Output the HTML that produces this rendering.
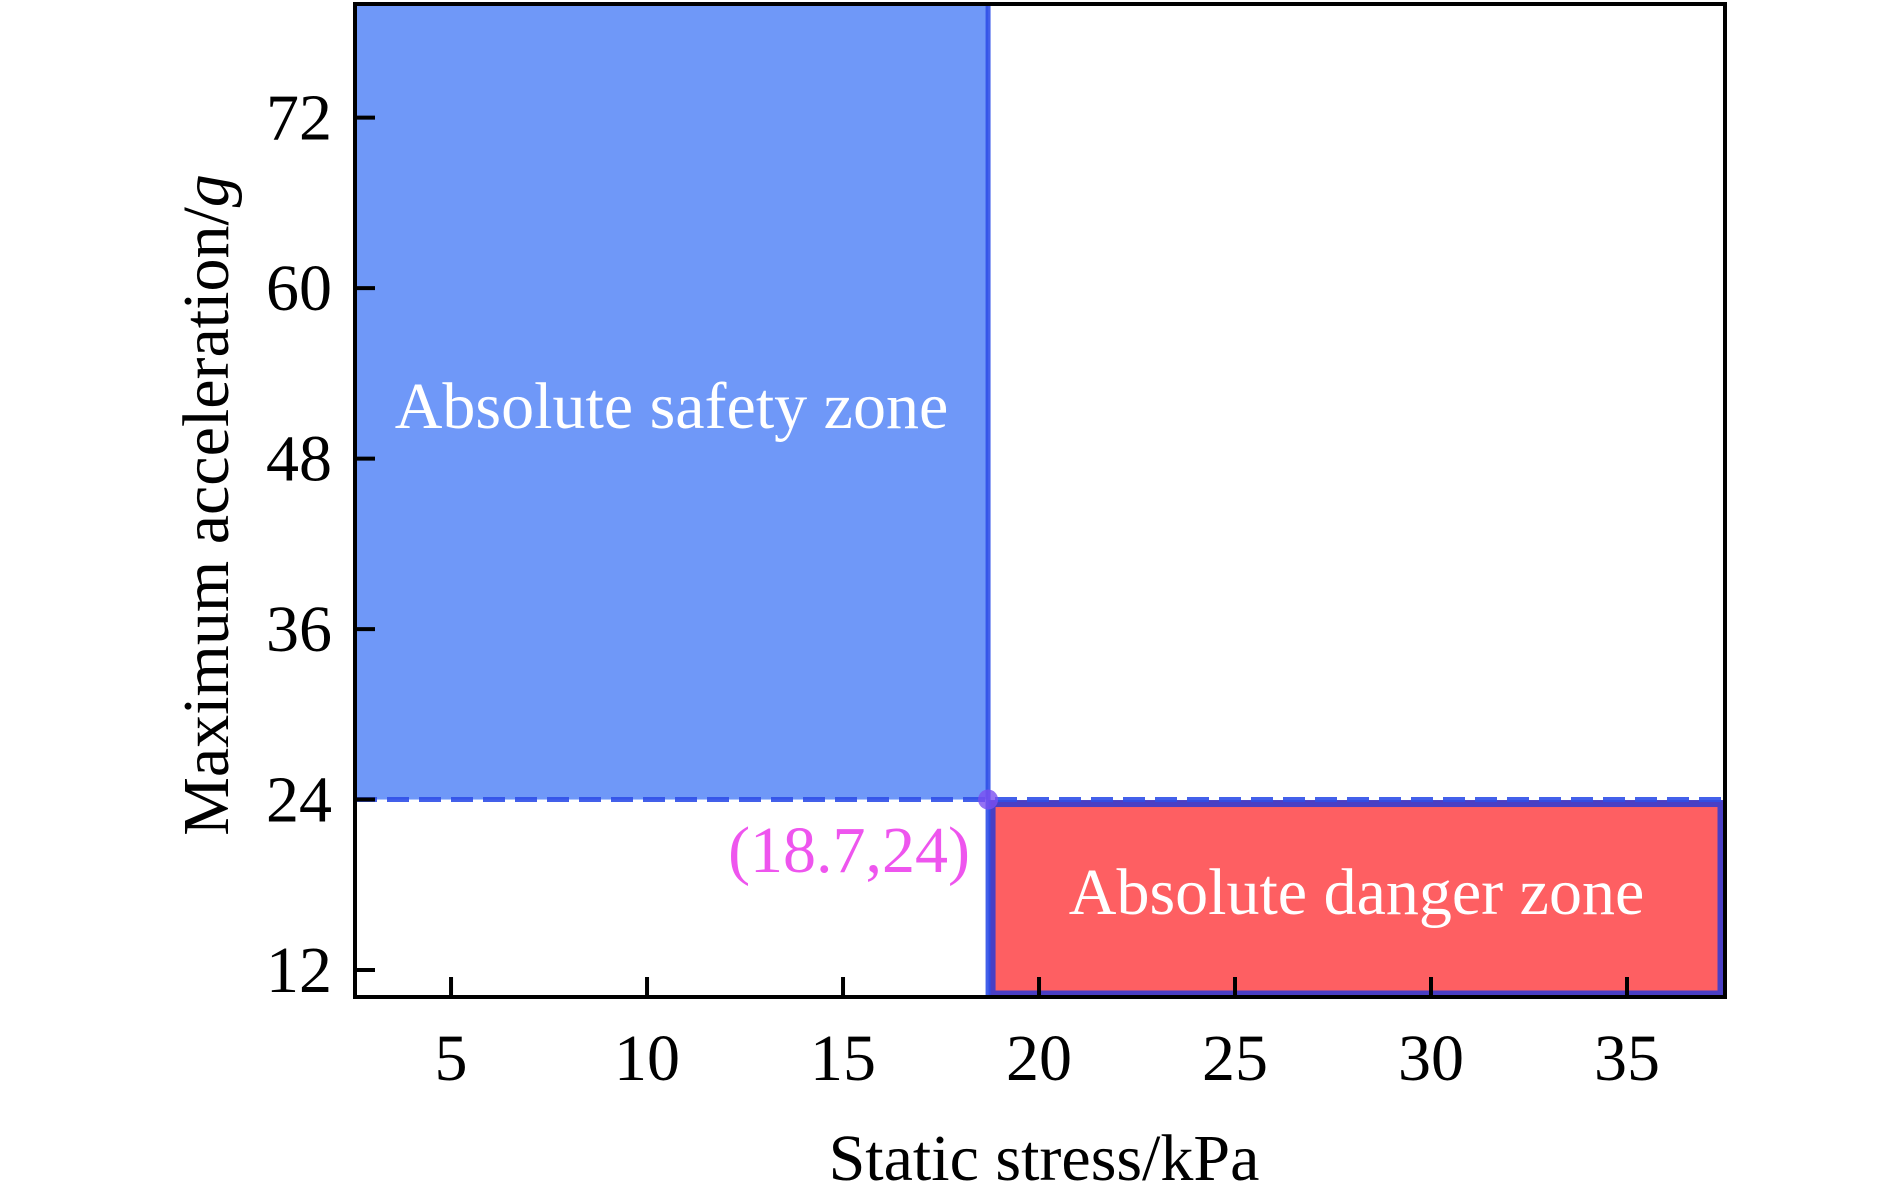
<!DOCTYPE html>
<html><head><meta charset="utf-8"><style>
html,body{margin:0;padding:0;background:#fff}
svg{display:block}
text{font-family:"Liberation Serif",serif}
</style></head><body>
<svg id="chart" width="1890" height="1197" viewBox="0 0 1890 1197">
<g id="g"></g>
</svg>
<script>
const xTicks=[5,10,15,20,25,30,35];
const yTicks=[12,24,36,48,60,72];
const criticalX=[18.7];
const criticalY=[24];
const xDomain=[2.55,37.5];
const yDomain=[10.1,80];
const L=355,R=1725,T=4,B=997;
function sx(v){return L+(v-xDomain[0])/(xDomain[1]-xDomain[0])*(R-L);}
function sy(v){return B-(v-yDomain[0])/(yDomain[1]-yDomain[0])*(B-T);}
const NS="http://www.w3.org/2000/svg";
const g=document.getElementById('g');
function mk(tag,attrs,parent){const e=document.createElementNS(NS,tag);for(const k in attrs)e.setAttribute(k,attrs[k]);(parent||g).appendChild(e);return e;}
const cx=sx(criticalX[0]),cy=sy(criticalY[0]);
let e;
e=mk('rect',{x:L,y:T,width:cx-L,height:cy-T,fill:'#6f98f8'});


e=mk('rect',{x:cx+4,y:cy+4,width:R-cx-8,height:B-cy-7,fill:'#fe5f62',stroke:'#4a3fc4','stroke-width':7});


e=mk('line',{x1:L,y1:cy,x2:R,y2:cy,stroke:'#2f4fe8','stroke-width':5,'stroke-dasharray':'22 10',opacity:0.9});


e=mk('line',{x1:cx,y1:T,x2:cx,y2:B,stroke:'#2f4fe8','stroke-width':5,opacity:0.9});


e=mk('circle',{cx:cx,cy:cy,r:10,fill:'#7a4ff0',opacity:0.8});


e=mk('rect',{x:L,y:T,width:R-L,height:B-T,fill:'none',stroke:'#000','stroke-width':4});


xTicks.forEach(v=>{
 const t=mk('line',{x1:sx(v),y1:B,x2:sx(v),y2:B-20,stroke:'#000','stroke-width':4});
 
 
 const l=mk('text',{x:sx(v),y:1080,'text-anchor':'middle','font-size':66,fill:'#000'});
 l.textContent=v;
 
 
});
yTicks.forEach(v=>{
 const t=mk('line',{x1:L,y1:sy(v),x2:L+20,y2:sy(v),stroke:'#000','stroke-width':4});
 
 
 const l=mk('text',{x:332,y:sy(v)+22,'text-anchor':'end','font-size':66,fill:'#000'});
 l.textContent=v;
 
 
});
e=mk('text',{x:(L+cx)/2,y:428,'text-anchor':'middle','font-size':66,fill:'#fff'});
e.textContent='Absolute safety zone';


e=mk('text',{x:(cx+R)/2,y:914,'text-anchor':'middle','font-size':66,fill:'#fff'});
e.textContent='Absolute danger zone';


e=mk('text',{x:cx-18,y:872,'text-anchor':'end','font-size':66,fill:'#ee55ee'});
e.textContent='('+criticalX[0]+','+criticalY[0]+')';


e=mk('text',{x:1044,y:1180,'text-anchor':'middle','font-size':66,fill:'#000'});
e.textContent='Static stress/kPa';


e=mk('text',{x:0,y:0,'text-anchor':'middle','font-size':66,fill:'#000',transform:'translate(228,505) rotate(-90)'});
e.innerHTML='Maximum acceleration/<tspan font-style="italic">g</tspan>';


</script>
</body></html>
